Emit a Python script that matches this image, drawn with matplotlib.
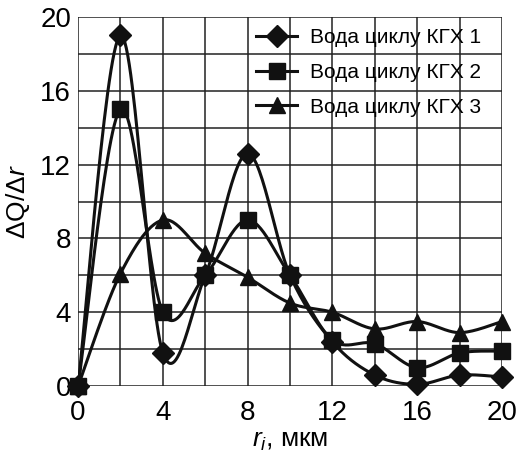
import numpy as np
import matplotlib.pyplot as plt

plt.rcParams['font.family'] = ['Liberation Sans', 'DejaVu Sans']
plt.rcParams['mathtext.fontset'] = 'custom'
plt.rcParams['mathtext.rm'] = 'Liberation Sans'
plt.rcParams['mathtext.it'] = 'Liberation Sans:italic'

# радіус пор, мкм
r = [0, 2, 4, 6, 8, 10, 12, 14, 16, 18, 20]
# розподіл для трьох циклів
kgx1 = [0, 19.0, 1.8, 6.0, 12.6, 6.0, 2.4, 0.6, 0.1, 0.6, 0.5]
kgx2 = [0, 15.0, 4.0, 6.0, 9.0, 6.0, 2.5, 2.3, 1.0, 1.8, 1.9]
kgx3 = [0, 6.1, 9.0, 7.2, 5.9, 4.5, 4.0, 3.1, 3.5, 2.9, 3.5]
labels = ['Вода циклу КГХ 1', 'Вода циклу КГХ 2', 'Вода циклу КГХ 3']
markers = ['D', 's', '^']
marker_z = [4, 6, 5]


# Згладжена крива (Безьє з дотичними Катмулла-Рома)
def smooth(x, y, n=30):
    p = np.column_stack([x, y]).astype(float)
    pts = np.vstack([p[0], p, p[-1]])
    out = []
    for i in range(1, len(pts) - 2):
        p0, p1, p2, p3 = pts[i - 1], pts[i], pts[i + 1], pts[i + 2]
        c1 = p1 + (p2 - p0) / 6
        c2 = p2 - (p3 - p1) / 6
        t = np.linspace(0, 1, n)[:, None]
        seg = ((1 - t) ** 3 * p1 + 3 * (1 - t) ** 2 * t * c1
               + 3 * (1 - t) * t ** 2 * c2 + t ** 3 * p2)
        out.append(seg)
    s = np.vstack(out)
    return s[:, 0], s[:, 1]


fig = plt.figure(figsize=(5.17, 4.57), dpi=100)
ax = fig.add_axes([0.151, 0.155, 0.820, 0.808])

for ys, m, z, lab in zip([kgx1, kgx2, kgx3], markers, marker_z, labels):
    sx, sy = smooth(r, ys)
    ax.plot(sx, sy, color='#111111', lw=2.2, zorder=3)
    ax.plot(r, ys, ls='none', marker=m, ms=11, color='#111111', zorder=z,
            clip_on=False)
    ax.plot([], [], color='#111111', lw=2.2, marker=m, ms=11, label=lab)

ax.set_xlim(0, 20)
ax.set_ylim(0, 20)
ax.set_xticks([0, 4, 8, 12, 16, 20])
ax.set_yticks([0, 4, 8, 12, 16, 20])
ax.set_xticks(np.arange(0, 21, 2), minor=True)
ax.set_yticks(np.arange(0, 21, 2), minor=True)
ax.grid(True, which='both', color='#222222', lw=1.1)
ax.set_axisbelow(True)
for s in ax.spines.values():
    s.set_visible(False)
ax.tick_params(which='both', length=0, labelsize=20)
ax.tick_params(axis='x', pad=10)
ax.tick_params(axis='y', pad=5)

ax.set_xlabel(r'$r_i$, мкм', fontsize=19, labelpad=2)
ax.set_ylabel(r'$\Delta\mathrm{Q}/\Delta r$', fontsize=19, labelpad=6)

ax.legend(loc='upper left', bbox_to_anchor=(0.375, 1.02), frameon=False,
          fontsize=15, handlelength=2.0, labelspacing=0.75, handletextpad=0.6)

fig.savefig('out.png', dpi=100)
